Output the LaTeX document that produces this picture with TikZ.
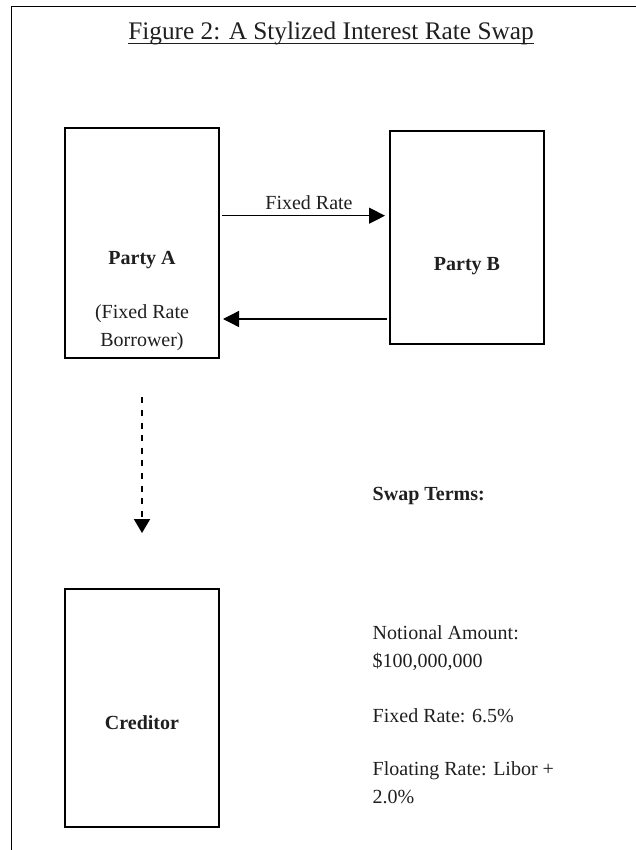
\documentclass[tikz,border=0pt]{standalone}
\usepackage{fontspec}
\setmainfont{Liberation Serif}
\usetikzlibrary{arrows.meta}
\begin{document}
\begin{tikzpicture}[x=1pt,y=-1pt,
  box/.style={draw, line width=2pt, inner sep=0pt, outer sep=0pt, minimum width=154pt},
  txt/.style={inner sep=0pt, outer sep=0pt, anchor=base, text=black!88, font=\fontsize{20}{28}\selectfont},
  btxt/.style={txt, font=\fontsize{20}{28}\selectfont\bfseries},
  ltxt/.style={txt, anchor=base west},
  arr/.style={line width=1.3pt, -{Triangle[length=16pt,width=16pt]}},
  darr/.style={line width=2pt, dash pattern=on 6pt off 6.6pt, -{Triangle[length=14pt,width=16pt]}}
]
\useasboundingbox (0,0) rectangle (636,850);
% outer frame (left and top only)
\draw[line width=1.8pt] (11.5,850) -- (11.5,6.5) -- (636,6.5);
% title
\node[txt, font=\fontsize{25.3}{30}\selectfont] (title) at (331,40) {Figure 2: A Stylized Interest Rate Swap};
\draw[line width=1.5pt, black!88] ([yshift=-3.5pt]title.base west) -- ([yshift=-3.5pt]title.base east);
% boxes
\node[box, minimum height=230pt] (A) at (142,243) {};
\node[box, minimum height=213pt] (B) at (467,237.5) {};
\node[box, minimum height=238pt] (C) at (142,708) {};
% box texts
\node[btxt] (tA) at (142,264.3) {Party A};
\node[txt] (tA2) at (142,318.3) {(Fixed Rate};
\node[txt] (tA3) at (142,346.7) {Borrower)};
\node[btxt] (tB) at (467,270) {Party B};
\node[btxt] (tC) at (142,729.3) {Creditor};
% connectors
\coordinate (y1) at (0,215.7);
\coordinate (y2) at (0,319);
\draw[arr] ([xshift=3pt]A.east |- y1) -- ([xshift=-5pt]B.west |- y1);
\node[txt] (fr) at (309,209.3) {Fixed Rate};
\draw[arr] ([xshift=-3pt]B.west |- y2) -- ([xshift=4pt]A.east |- y2);
\draw[darr] ([yshift=-39.3pt]A.south) -- ([yshift=56pt]C.north);
% swap terms
\node[btxt, anchor=base west] (st) at (372.7,500) {Swap Terms:};
\node[ltxt] (n1) at (372.7,639) {Notional Amount:};
\node[ltxt] (n2) at (372.7,667) {\$100,000,000};
\node[ltxt] (n3) at (372.7,722) {Fixed Rate: 6.5\%};
\node[ltxt] (n4) at (372.7,775) {Floating Rate: Libor +};
\node[ltxt] (n5) at (372.7,803) {2.0\%};
\end{tikzpicture}
\end{document}
